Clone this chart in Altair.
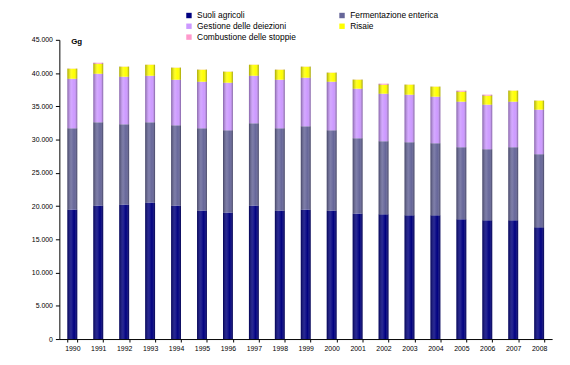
import altair as alt
import pandas as pd

years = [str(y) for y in range(1990, 2009)]
series = ["Suoli agricoli", "Fermentazione enterica", "Gestione delle deiezioni",
          "Risaie", "Combustione delle stoppie"]
colors = ["#000080", "#666699", "#CC99FF", "#FFFF00", "#FF99CC"]
legend_order = ["Suoli agricoli", "Gestione delle deiezioni", "Combustione delle stoppie",
                "Fermentazione enterica", "Risaie"]
y_ticks = [0, 5000, 10000, 15000, 20000, 25000, 30000, 35000, 40000, 45000]

suoli = [19500, 20100, 20250, 20550, 20100, 19350, 19050, 20100, 19350, 19500,
         19350, 18900, 18750, 18600, 18600, 18000, 17850, 17850, 16800]
fermentazione = [12200, 12500, 12050, 12050, 12050, 12350, 12350, 12350, 12350, 12500,
                 12050, 11300, 11000, 11000, 10850, 10850, 10700, 11000, 11000]
gestione = [7450, 7300, 7150, 7000, 6850, 7000, 7150, 7150, 7300, 7300,
            7300, 7450, 7150, 7150, 7000, 6850, 6700, 6850, 6700]
risaie = [1500, 1500, 1500, 1650, 1800, 1800, 1650, 1650, 1500, 1650,
          1350, 1350, 1350, 1500, 1500, 1500, 1350, 1650, 1350]
combustione = [20, 150, 20, 20, 20, 20, 20, 20, 20, 20,
               20, 20, 150, 20, 20, 150, 150, 20, 20]

rows = []
for si, (name, vals) in enumerate(zip(series, [suoli, fermentazione, gestione, risaie, combustione])):
    for y, v in zip(years, vals):
        rows.append({"anno": y, "serie": name, "valore": v, "ordine": si})
df = pd.DataFrame(rows)

color_map = dict(zip(series, colors))
legend_colors = [color_map[s] for s in legend_order]

yaxis = alt.Axis(values=y_ticks, grid=False,
                 labelExpr="replace(format(datum.value, ','), ',', '.')",
                 labelFontSize=7, labelColor="black", domainColor="black",
                 tickColor="black", tickSize=4, labelPadding=3,
                 labelOverlap=False)
xaxis = alt.Axis(labelAngle=0, tickBand="extent", labelFontSize=7,
                 labelColor="black", domainColor="black", tickColor="black",
                 tickSize=3, labelPadding=3, labelOverlap=False)
xscale = alt.Scale(paddingInner=0.62, paddingOuter=0.31)
yscale = alt.Scale(domain=[0, 45000], nice=False)

bars = alt.Chart(df).mark_bar(strokeWidth=0).encode(
    x=alt.X("anno:N", sort=years, title=None, scale=xscale, axis=xaxis),
    y=alt.Y("valore:Q", stack="zero", title=None, scale=yscale, axis=yaxis),
    color=alt.Color("serie:N", sort=legend_order,
                    scale=alt.Scale(domain=legend_order, range=legend_colors),
                    legend=alt.Legend(title=None, orient="none", legendX=127, legendY=-29,
                                      columns=2, columnPadding=42, rowPadding=2,
                                      symbolType="square", symbolSize=30,
                                      symbolStrokeWidth=0, labelFontSize=8.5,
                                      labelLimit=300, labelOffset=4)),
    order=alt.Order("ordine:Q"),
)

shade = alt.Chart(df).mark_bar(
    strokeWidth=0,
    fill=alt.Gradient(
        gradient="linear", x1=0, x2=1, y1=0, y2=0,
        stops=[
            alt.GradientStop(offset=0, color="rgba(0,0,0,0.35)"),
            alt.GradientStop(offset=0.4, color="rgba(255,255,255,0.15)"),
            alt.GradientStop(offset=0.7, color="rgba(255,255,255,0.0)"),
            alt.GradientStop(offset=1, color="rgba(0,0,0,0.4)"),
        ],
    ),
).encode(
    x=alt.X("anno:N", sort=years, title=None, scale=xscale, axis=xaxis),
    y=alt.Y("sum(valore):Q", title=None, scale=yscale, axis=yaxis),
)

unit = alt.Chart(pd.DataFrame({"t": ["Gg"]})).mark_text(
    fontWeight="bold", fontSize=8, align="left", baseline="middle"
).encode(text="t:N", x=alt.value(12), y=alt.value(2))

chart = alt.layer(bars, shade, unit).properties(
    width=499, height=303,
    autosize=alt.AutoSizeParams(type="none"),
    padding={"left": 52, "top": 30, "right": 10, "bottom": 20},
).configure(font="Liberation Sans").configure_view(stroke=None)

chart.save("out.html", embed_options={"renderer": "svg", "actions": False})
